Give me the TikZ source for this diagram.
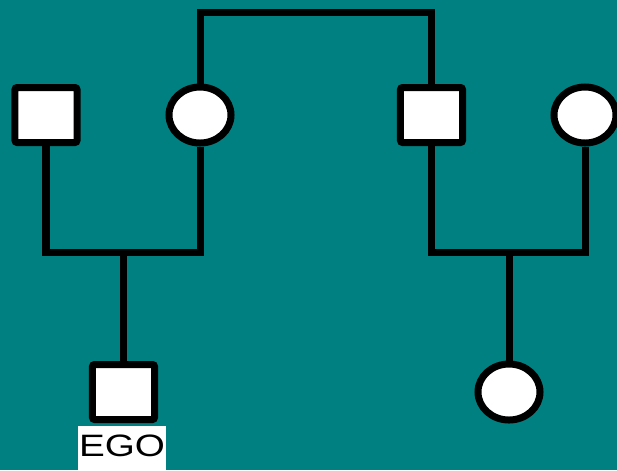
\documentclass[tikz,border=0pt]{standalone}
\usepackage{fontspec}
\setsansfont{Liberation Sans}
\usepackage{xcolor}
\usetikzlibrary{shapes.geometric}
\definecolor{fundo}{RGB}{0,128,128}
\tikzset{
    masc/.style={
        rectangle,
        draw,
        fill=white,
        line width=0.175cm,
        rounded corners=1.5pt,
        minimum width=1.55cm,
        minimum height=1.375cm,
        inner sep=0pt
    },
    fem/.style={
        ellipse,
        draw,
        fill=white,
        line width=0.175cm,
        minimum width=1.55cm,
        minimum height=1.4cm,
        inner sep=0pt
    },
    ligacao/.style={line width=0.175cm},
    rotulo/.style={
        fill=white,
        inner sep=0pt,
        minimum width=2.2cm,
        text height=0.75cm,
        text depth=0.35cm,
        font=\sffamily\fontsize{22}{22}\selectfont
    }
}

\begin{document}
\begin{tikzpicture}[x=0.025cm, y=-0.025cm]
        \fill[fundo] (0,0) rectangle (617,470);
        \useasboundingbox (0,0) rectangle (617,470);
        % primeira geracao
        \node[masc] (pai) at (46,115) {};
        \node[fem] (mae) at (200,115) {};
        \node[masc] (tio) at (431.5,115) {};
        \node[fem] (tia) at (585,115) {};
        % segunda geracao
        \node[masc] (ego) at (123.5,392) {};
        \node[fem] (prima) at (509,392) {};
        \node[rotulo, anchor=base] (rotego) at (122,456) {\scalebox{1.25}[1]{EGO}};
        % ligacoes
        \coordinate (irmaos) at (315,12);
        \coordinate (casal1) at (123.5,252);
        \coordinate (casal2) at (509,252);
        \draw[ligacao] (mae.north) |- (irmaos) -| (tio.north);
        \draw[ligacao] (pai.south) |- (casal1) -| (mae.south);
        \draw[ligacao] (tio.south) |- (casal2) -| (tia.south);
        \draw[ligacao] (casal1) -- (ego.north);
        \draw[ligacao] (casal2) -- (prima.north);
    \end{tikzpicture}
\end{document}
